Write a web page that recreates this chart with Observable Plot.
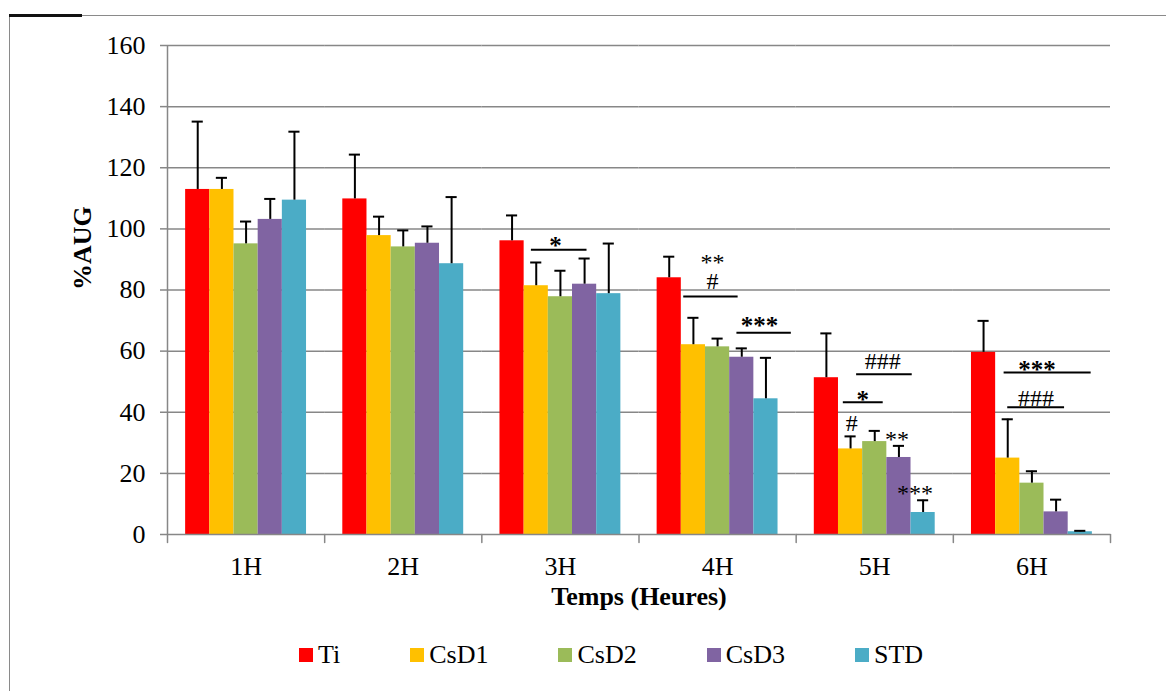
<!DOCTYPE html>
<html>
<head>
<meta charset="utf-8">
<script src="https://cdn.jsdelivr.net/npm/d3@7"></script>
<script src="https://cdn.jsdelivr.net/npm/@observablehq/plot@0.6"></script>
<style>
  html, body { margin: 0; padding: 0; background: white; }
  #wrap { position: relative; width: 1166px; height: 691px; overflow: hidden; font-family: "Liberation Serif", "Times New Roman", serif; }
  #border { position: absolute; left: 9px; top: 15px; width: 2000px; height: 2000px; border-left: 1.5px solid #8a8a8a; border-top: 1.5px solid #8a8a8a; pointer-events: none; }
  #border-black { position: absolute; left: 9px; top: 14px; width: 73px; height: 2.5px; background: #111; pointer-events: none; }
  #legend { display: flex; align-items: center; padding-left: 299px; margin-top: 20px; height: 30px; font-size: 26px; line-height: 30px; }
  .item { display: flex; align-items: center; margin-right: 70px; }
  .sw { width: 14px; height: 14px; margin-right: 5px; }
  svg text { font-family: "Liberation Serif", "Times New Roman", serif; }
</style>
</head>
<body>
<div id="wrap">
  <div id="chart"></div>
  <div id="legend"></div>
  <div id="border"></div>
  <div id="border-black"></div>
</div>
<script>
// ---- data ----
const times  = ["1H", "2H", "3H", "4H", "5H", "6H"];
const series = ["Ti", "CsD1", "CsD2", "CsD3", "STD"];
const colors = ["#FF0000", "#FFC000", "#9BBB59", "#8064A2", "#4BACC6"];

const Ti   = [112.9, 109.8, 96.1, 84.0, 51.3, 59.6];
const CsD1 = [112.9,  97.8, 81.4, 62.1, 28.0, 25.0];
const CsD2 = [ 95.1,  94.1, 77.8, 61.4, 30.4, 16.8];
const CsD3 = [103.1,  95.3, 81.9, 58.0, 25.2,  7.4];
const STD  = [109.4,  88.6, 78.8, 44.4,  7.2,  0.9];

const errTi   = [22.2, 14.5,  8.3,  6.9, 14.5, 10.3];
const errCsD1 = [ 3.8,  6.2,  7.6,  8.8,  4.1, 12.7];
const errCsD2 = [ 7.3,  5.4,  8.5,  2.7,  3.5,  3.9];
const errCsD3 = [ 6.7,  5.5,  8.4,  2.9,  3.8,  4.0];
const errSTD  = [22.4, 21.8, 16.4, 13.4,  4.0,  0.3];

const yTicks = [0, 20, 40, 60, 80, 100, 120, 140, 160];

// significance brackets: span in bar-index units (bar i covers [i, i+1])
const sigLines = [
  {time: "3H", from: 1.3,  to: 3.6,  y: 93.2},
  {time: "4H", from: 1.1,  to: 3.35, y: 77.9},
  {time: "4H", from: 3.3,  to: 5.55, y: 66.0},
  {time: "5H", from: 1.75, to: 4.05, y: 52.4},
  {time: "5H", from: 1.2,  to: 2.85, y: 43.3},
  {time: "6H", from: 1.35, to: 4.95, y: 53.0},
  {time: "6H", from: 1.5,  to: 3.85, y: 41.6}
];
const starsBold = [
  {time: "3H", x: 2.3,  y: 95.9, text: "*"},
  {time: "4H", x: 4.23, y: 70.0, text: "***"},
  {time: "5H", x: 2.0,  y: 45.8, text: "*"},
  {time: "6H", x: 2.71, y: 55.6, text: "***"}
];
const starsLight = [
  {time: "4H", x: 2.29, y: 90.6, text: "**"},
  {time: "5H", x: 3.42, y: 32.7, text: "**"},
  {time: "5H", x: 4.16, y: 15.2, text: "***"}
];
const hashes = [
  {time: "4H", x: 2.29, y: 83.0, text: "#"},
  {time: "5H", x: 2.83, y: 56.6, text: "###"},
  {time: "5H", x: 1.55, y: 36.4, text: "#"},
  {time: "6H", x: 2.67, y: 44.6, text: "###"}
];

// ---- table built from the arrays ----
const values = [Ti, CsD1, CsD2, CsD3, STD];
const errs = [errTi, errCsD1, errCsD2, errCsD3, errSTD];
const rows = [];
times.forEach((t, ti) => series.forEach((s, si) => {
  rows.push({time: t, series: s, idx: si, value: values[si][ti], err: errs[si][ti]});
}));

const xDomain = [-0.75, series.length + 0.75];
const gray = "#878787";
const serif = "'Liberation Serif', 'Times New Roman', serif";
const tickShape = {draw(context, l) { context.moveTo(0, 0); context.lineTo(0, -l); }};

const H = 620;
const chart = Plot.plot({
  width: 1166,
  height: H,
  marginLeft: 167,
  marginRight: 56,
  marginTop: 45,
  marginBottom: H - 534,
  style: {fontFamily: serif, fontSize: "26px", background: "transparent", overflow: "visible", color: "black"},
  fx: {domain: times, padding: 0, round: false, label: null},
  x: {domain: xDomain, axis: null},
  y: {domain: [0, 160], axis: null},
  color: {domain: series, range: colors},
  marks: [
    Plot.gridY(yTicks.slice(1), {stroke: gray, strokeOpacity: 1, strokeWidth: 1.5}),
    Plot.rectY(rows, {fx: "time", x1: d => d.idx, x2: d => d.idx + 1, y1: 0, y2: "value", fill: "series"}),
    Plot.ruleY([0], {stroke: gray, strokeWidth: 1.5}),
    Plot.ruleX([{time: times[0]}], {fx: "time", x: () => xDomain[0], y1: 0, y2: 160, stroke: gray, strokeWidth: 1.5}),
    Plot.vector(times.map(t => ({time: t})), {fx: "time", frameAnchor: "bottom-left", length: 8, rotate: 180, anchor: "start", shape: tickShape, stroke: gray, strokeWidth: 1.5}),
    Plot.vector([{time: times[times.length - 1]}], {fx: "time", frameAnchor: "bottom-right", length: 8, rotate: 180, anchor: "start", shape: tickShape, stroke: gray, strokeWidth: 1.5}),
    Plot.ruleX(rows, {fx: "time", x: d => d.idx + 0.5, y1: "value", y2: d => d.value + d.err, stroke: "black", strokeWidth: 2}),
    Plot.ruleY(rows, {fx: "time", y: d => d.value + d.err, x1: d => d.idx + 0.27, x2: d => d.idx + 0.73, stroke: "black", strokeWidth: 2}),
    Plot.ruleY(sigLines, {fx: "time", y: "y", x1: "from", x2: "to", stroke: "black", strokeWidth: 2}),
    Plot.text(starsBold, {fx: "time", x: "x", y: "y", text: "text", fontFamily: serif, fontWeight: "bold", fontSize: 25, dy: 5}),
    Plot.text(starsLight, {fx: "time", x: "x", y: "y", text: "text", fontFamily: serif, fontSize: 24, dy: 5}),
    Plot.text(hashes, {fx: "time", x: "x", y: "y", text: "text", fontFamily: serif, fontSize: 24}),
    Plot.axisY(yTicks, {anchor: "left", tickSize: 7, tickPadding: 15, stroke: gray, strokeWidth: 1.5, fill: "black", fontFamily: serif, fontSize: 26, label: null}),
    Plot.axisFx({anchor: "bottom", tickSize: 0, tickPadding: 22, fontFamily: serif, fontSize: 26, label: null}),
    Plot.text(["%AUG"], {facet: "super", frameAnchor: "left", dx: -85, rotate: -90, fontFamily: serif, fontWeight: "bold"}),
    Plot.text(["Temps (Heures)"], {facet: "super", frameAnchor: "bottom", dy: 70, fontFamily: serif, fontWeight: "bold"})
  ]
});
document.getElementById("chart").appendChild(chart);

// legend
const legend = document.getElementById("legend");
series.forEach((s, i) => {
  const item = document.createElement("div");
  item.className = "item";
  const sw = document.createElement("span");
  sw.className = "sw";
  sw.style.background = colors[i];
  const label = document.createElement("span");
  label.textContent = s;
  item.appendChild(sw);
  item.appendChild(label);
  legend.appendChild(item);
});
</script>
</body>
</html>
